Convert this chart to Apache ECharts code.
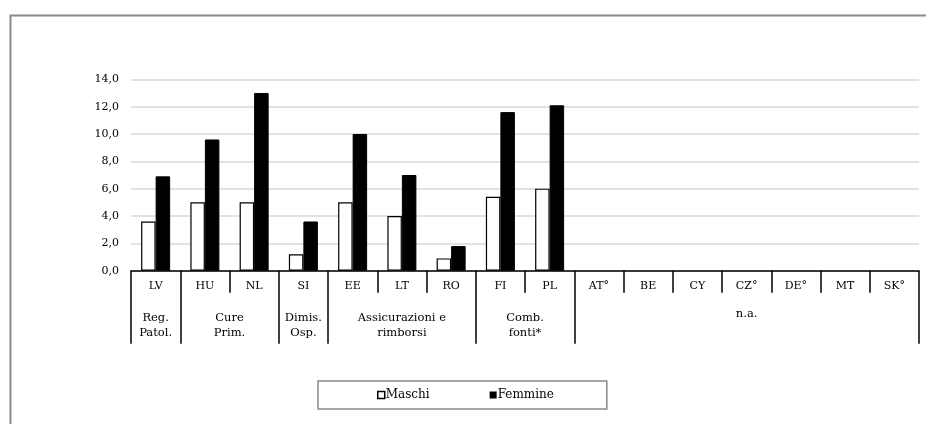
<!DOCTYPE html>
<html>
<head>
<meta charset="utf-8">
<script src="https://cdn.jsdelivr.net/npm/echarts@6/dist/echarts.min.js"></script>
<style>
html,body{margin:0;padding:0;background:#fff;}
#chart{width:926px;height:424px;}
</style>
</head>
<body>
<div id="chart"></div>
<script>
var categories = ['LV','HU','NL','SI','EE','LT','RO','FI','PL','AT°','BE','CY','CZ°','DE°','MT','SK°'];
var maschi   = [3.6, 5.0, 5.0, 1.2, 5.0, 4.0, 0.9, 5.4, 6.0, null, null, null, null, null, null, null];
var femmine  = [6.9, 9.6, 13.0, 3.6, 10.0, 7.0, 1.8, 11.6, 12.1, null, null, null, null, null, null, null];
var groupLabels = ['Reg.\nPatol.', 'Cure\nPrim.', 'Dimis.\nOsp.', 'Assicurazioni e\nrimborsi', 'Comb.\nfonti*', 'n.a.'];
var groupSizes  = [1, 2, 1, 3, 2, 7];
var yTicks = [0, 2, 4, 6, 8, 10, 12, 14];

var bounds = [0], centers = [], acc = 0;
groupSizes.forEach(function (s) { centers.push(acc + s / 2); acc += s; bounds.push(acc); });

var FONT = '"DejaVu Serif", "Liberation Serif", serif';
var chart = echarts.init(document.getElementById('chart'));
chart.setOption({
  animation: false,
  backgroundColor: '#fff',
  textStyle: { fontFamily: FONT, color: '#000' },
  graphic: [{
    type: 'rect', left: 8, top: 13, silent: true,
    shape: { width: 1000, height: 500 },
    style: { fill: 'none', stroke: '#8a8a8a', lineWidth: 2 }
  }],
  grid: { left: 131, right: 7, top: 79.3, bottom: 153.3, containLabel: false },
  legend: {
    left: 318, top: 381,
    padding: [8, 53, 8, 59],
    borderColor: '#8a8a8a', borderWidth: 1.5,
    itemWidth: 7, itemHeight: 7, itemGap: 60,
    textStyle: { fontFamily: FONT, fontSize: 12, color: '#000', padding: [0, 0, 0, -4] },
    data: [
      { name: 'Maschi', icon: 'rect', itemStyle: { color: '#fff', borderColor: '#000', borderWidth: 1.5 } },
      { name: 'Femmine', icon: 'rect', itemStyle: { color: '#000', borderWidth: 0 } }
    ]
  },
  xAxis: [{
    type: 'category', data: categories, position: 'bottom',
    axisLine: { lineStyle: { color: '#000', width: 1.5 } },
    axisTick: { show: true, interval: 0, length: 22, lineStyle: { color: '#000', width: 1.5 } },
    axisLabel: { interval: 0, margin: 10, fontFamily: FONT, fontSize: 11, color: '#000' },
    splitLine: { show: false }
  }, {
    type: 'value', min: 0, max: categories.length, position: 'bottom',
    axisLine: { show: false },
    splitLine: { show: false },
    axisTick: { show: true, customValues: bounds, length: 73, lineStyle: { color: '#000', width: 1.5 } },
    axisLabel: {
      customValues: centers, margin: 40, fontFamily: FONT, fontSize: 11.5, color: '#000',
      lineHeight: 15, align: 'center',
      formatter: function (v) {
        var i = centers.indexOf(v);
        if (i < 0) return '';
        return groupLabels[i].indexOf('\n') < 0 ? '{one|' + groupLabels[i] + '}' : groupLabels[i];
      },
      rich: { one: { fontFamily: FONT, fontSize: 11.5, color: '#000', padding: [0, 0, 8, 0] } }
    }
  }],
  yAxis: {
    type: 'value', min: yTicks[0], max: yTicks[yTicks.length - 1], interval: 2,
    axisLine: { show: false }, axisTick: { show: false },
    axisLabel: { margin: 12, fontFamily: FONT, fontSize: 11, color: '#000',
      formatter: function (v) { return v.toFixed(1).replace('.', ','); } },
    splitLine: { lineStyle: { color: '#d9d9d9', width: 1.5 } }
  },
  series: [{
    name: 'Maschi', type: 'bar', xAxisIndex: 0, data: maschi,
    barWidth: 14.5, barGap: '0%',
    itemStyle: { color: '#fff', borderColor: '#000', borderWidth: 1.2 }
  }, {
    name: 'Femmine', type: 'bar', xAxisIndex: 0, data: femmine,
    barWidth: 14.5, barGap: '0%',
    itemStyle: { color: '#000', borderColor: '#000', borderWidth: 1 }
  }]
});
</script>
</body>
</html>
